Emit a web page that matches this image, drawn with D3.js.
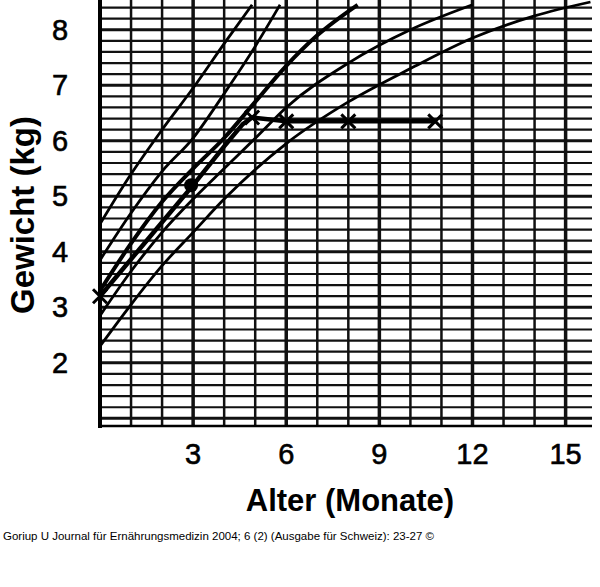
<!DOCTYPE html>
<html><head><meta charset="utf-8">
<script src="https://cdn.jsdelivr.net/npm/d3@7"></script>
<style>body{margin:0;background:#fff}</style></head>
<body><svg id="c" width="600" height="587"></svg>
<script>
// percentile curves [age in months, kg]
const curve1 = [[0,4.5],[1,5.4],[2,6.2],[3,6.95],[4,7.75],[4.9,8.45]];
const curve2 = [[0,3.85],[1,4.7],[2,5.45],[3,6.05],[4,6.85],[5,7.7],[5.8,8.45]];
const curve3 = [[0,3.3],[1,4.15],[2,4.9],[3,5.5],[4,6.05],[5,6.7],[6,7.35],[7,7.9],[8.3,8.45]];
const curve4 = [[0,2.85],[1,3.65],[2,4.35],[3,4.95],[4,5.5],[5.1,6.1],[6,6.6],[8,7.4],[10,8.0],[12,8.45]];
const curve5 = [[0,2.3],[1,3.05],[2,3.75],[3,4.35],[4,4.95],[6,5.95],[8,6.7],[10,7.3],[12,7.85],[14,8.25],[15.8,8.5]];
const child = [[0,3.2],[1.5,4.2],[3,5.2],[4,5.9],[4.6,6.3],[4.9,6.42],[6,6.35],[8,6.35],[10.8,6.35]];
const marks = [[0,3.2],[4.9,6.42],[6,6.35],[8,6.35],[10.8,6.35]];
const xTicks = [3,6,9,12,15];
const yTicks = [2,3,4,5,6,7,8];

const svg = d3.select("#c");
const x = d3.scaleLinear().domain([0,15.85]).range([100,592]);
const y = d3.scaleLinear().domain([0.88,8.5]).range([425,2]);
const g = svg.append("g");

// grid: horizontal every 0.2 kg, vertical every month
d3.range(1.0,8.5,0.2).forEach(v => {
  const major = Math.abs(v-Math.round(v))<0.01;
  g.append("line").attr("x1",100).attr("x2",592).attr("y1",y(v)).attr("y2",y(v))
    .attr("stroke","#111").attr("stroke-width",major?3:2.2);
});
d3.range(1,16).forEach(m => {
  g.append("line").attr("x1",x(m)).attr("x2",x(m)).attr("y1",0).attr("y2",425)
    .attr("stroke","#111").attr("stroke-width",m%3===0?3.5:2.5);
});
g.append("line").attr("x1",100).attr("x2",100).attr("y1",0).attr("y2",428).attr("stroke","#000").attr("stroke-width",4);
g.append("line").attr("x1",98).attr("x2",592).attr("y1",426).attr("y2",426).attr("stroke","#000").attr("stroke-width",2.5);

svg.append("clipPath").attr("id","pc").append("rect").attr("x",100).attr("y",0).attr("width",492).attr("height",426);
const line = d3.line().x(d=>x(d[0])).y(d=>y(d[1])).curve(d3.curveMonotoneX);
const cg = svg.append("g").attr("clip-path","url(#pc)");
[curve1,curve2,curve4,curve5].forEach(c => cg.append("path").attr("d",line(c)).attr("fill","none").attr("stroke","#000").attr("stroke-width",2.8));
cg.append("path").attr("d",line(curve3)).attr("fill","none").attr("stroke","#000").attr("stroke-width",4);
cg.append("path").attr("d",d3.line().x(d=>x(d[0])).y(d=>y(d[1]))(child)).attr("fill","none").attr("stroke","#000").attr("stroke-width",4.5);
marks.forEach(d => {
  const px=x(d[0]), py=y(d[1]), s=7;
  svg.append("path").attr("d",`M${px-s},${py-s}L${px+s},${py+s}M${px-s},${py+s}L${px+s},${py-s}`)
    .attr("stroke","#000").attr("stroke-width",3);
});
svg.append("circle").attr("cx",x(3)-2).attr("cy",y(5.2)).attr("r",7).attr("fill","#000");

const font = "Liberation Sans, Arial, sans-serif";
svg.selectAll(".yt").data(yTicks).join("text").attr("x",60).attr("y",d=>y(d)+10)
  .attr("text-anchor","middle").attr("font-family",font).attr("font-size",29).attr("stroke","#000").attr("stroke-width",0.6).text(d=>d);
svg.selectAll(".xt").data(xTicks).join("text").attr("x",d=>x(d)).attr("y",464)
  .attr("text-anchor","middle").attr("font-family",font).attr("font-size",29).attr("stroke","#000").attr("stroke-width",0.6).text(d=>d);
svg.append("text").attr("transform","translate(34,215) rotate(-90)").attr("text-anchor","middle")
  .attr("font-family",font).attr("font-size",33).attr("font-weight","bold").text("Gewicht (kg)");
svg.append("text").attr("x",350).attr("y",511).attr("text-anchor","middle")
  .attr("font-family",font).attr("font-size",31).attr("font-weight","bold").text("Alter (Monate)");
svg.append("text").attr("x",3).attr("y",540).attr("font-family",font).attr("font-size",11.5)
  .text("Goriup U Journal für Ernährungsmedizin 2004; 6 (2) (Ausgabe für Schweiz): 23-27 ©");
</script></body></html>
